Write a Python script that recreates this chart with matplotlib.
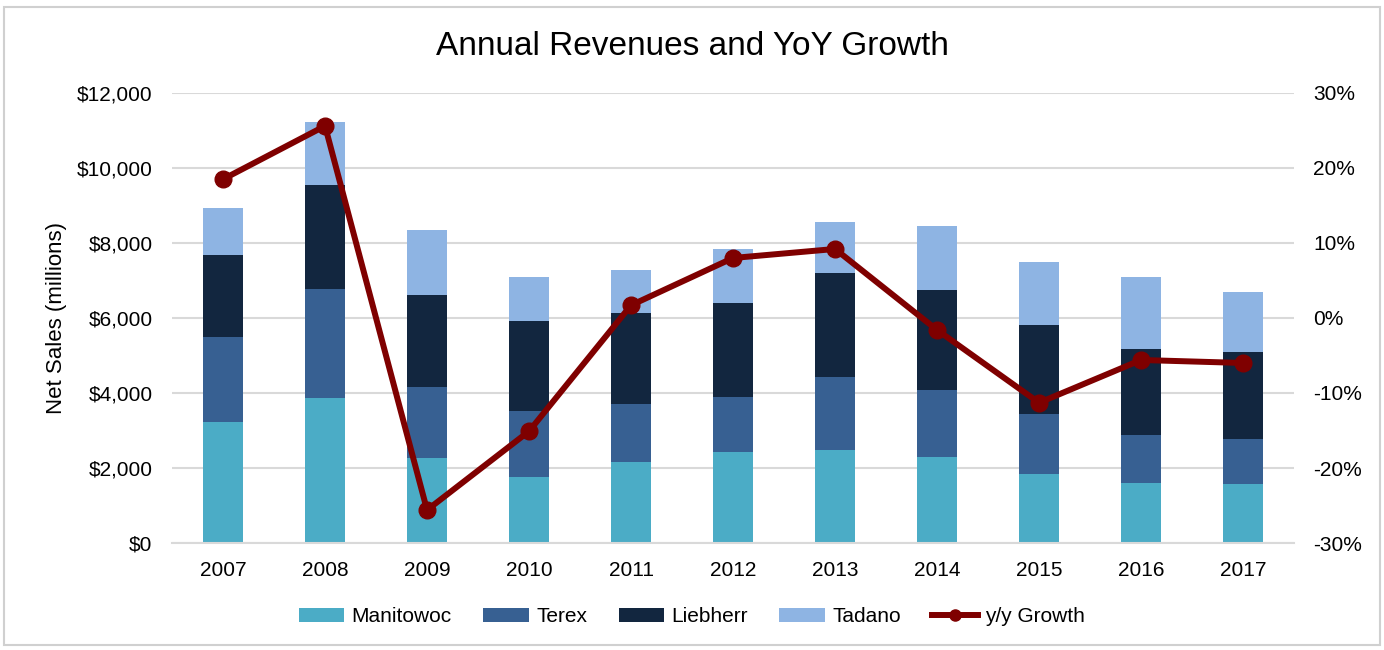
import numpy as np
import matplotlib.pyplot as plt
from matplotlib.patches import Rectangle
from matplotlib.lines import Line2D
from matplotlib.ticker import FuncFormatter

plt.rcParams['font.family'] = ['Liberation Sans', 'DejaVu Sans']

years = ["2007", "2008", "2009", "2010", "2011", "2012", "2013", "2014", "2015", "2016", "2017"]
# net sales in $ millions, per company
manitowoc = [3230, 3870, 2270, 1760, 2150, 2430, 2490, 2300, 1850, 1600, 1570]
terex = [2260, 2900, 1900, 1770, 1560, 1470, 1930, 1780, 1590, 1280, 1190]
liebherr = [2200, 2780, 2440, 2390, 2410, 2500, 2780, 2660, 2380, 2300, 2330]
tadano = [1250, 1680, 1740, 1180, 1160, 1440, 1370, 1710, 1680, 1920, 1590]
growth = [18.5, 25.6, -25.6, -15.1, 1.7, 8.0, 9.2, -1.6, -11.3, -5.6, -6.0]

c_man = "#4BACC6"
c_ter = "#376092"
c_lie = "#12263F"
c_tad = "#8EB4E3"
c_line = "#7F0000"
grid_c = "#D9D9D9"

fig = plt.figure(figsize=(13.84, 6.5), dpi=100)
fig.patches.append(Rectangle((0.003, 0.008), 0.994, 0.982, transform=fig.transFigure,
                             fill=False, edgecolor="#D0D0D0", linewidth=1.5))
ax = fig.add_axes([0.1243, 0.1646, 0.8107, 0.6924])

x = np.arange(len(years))
w = 0.39
b1 = np.array(manitowoc)
b2 = b1 + np.array(terex)
b3 = b2 + np.array(liebherr)
ax.bar(x, manitowoc, w, color=c_man, label="Manitowoc", zorder=2)
ax.bar(x, terex, w, bottom=b1, color=c_ter, label="Terex", zorder=2)
ax.bar(x, liebherr, w, bottom=b2, color=c_lie, label="Liebherr", zorder=2)
ax.bar(x, tadano, w, bottom=b3, color=c_tad, label="Tadano", zorder=2)

ax.set_xlim(-0.5, len(years) - 0.5)
ax.set_ylim(0, 12000)
ax.set_yticks(np.arange(0, 12001, 2000))
ax.yaxis.set_major_formatter(FuncFormatter(lambda v, p: "${:,.0f}".format(v)))
ax.set_xticks(x)
ax.set_xticklabels(years)
ax.grid(axis="y", color=grid_c, linewidth=1.5, zorder=0)
ax.set_axisbelow(True)
for s in ["top", "right", "left"]:
    ax.spines[s].set_visible(False)
ax.spines["bottom"].set_color(grid_c)
ax.spines["bottom"].set_linewidth(1.5)
ax.tick_params(axis="both", length=0, labelsize=15, colors="#000000")
ax.tick_params(axis="y", pad=14)
ax.tick_params(axis="x", pad=13)
ax.set_ylabel("Net Sales (millions)", fontsize=16, labelpad=7)

ax2 = ax.twinx()
ax2.plot(x, growth, color=c_line, linewidth=4.3, marker="o", markersize=12, zorder=5)
ax2.set_ylim(-30, 30)
ax2.set_yticks(np.arange(-30, 31, 10))
ax2.yaxis.set_major_formatter(FuncFormatter(lambda v, p: "{:.0f}%".format(v)))
for s in ax2.spines.values():
    s.set_visible(False)
ax2.tick_params(axis="y", length=0, labelsize=15, pad=14)

fig.text(0.5, 0.929, "Annual Revenues and YoY Growth", ha="center", va="center", fontsize=24)

h1, l1 = ax.get_legend_handles_labels()
line_h = Line2D([], [], color=c_line, linewidth=4.3, marker="o", markersize=8)
fig.legend(h1 + [line_h], l1 + ["y/y Growth"], loc="center", bbox_to_anchor=(0.5, 0.051),
           ncol=5, frameon=False, fontsize=15, handlelength=2.2, handleheight=0.7,
           columnspacing=1.5, handletextpad=0.35)

fig.savefig("out.png", dpi=100)
